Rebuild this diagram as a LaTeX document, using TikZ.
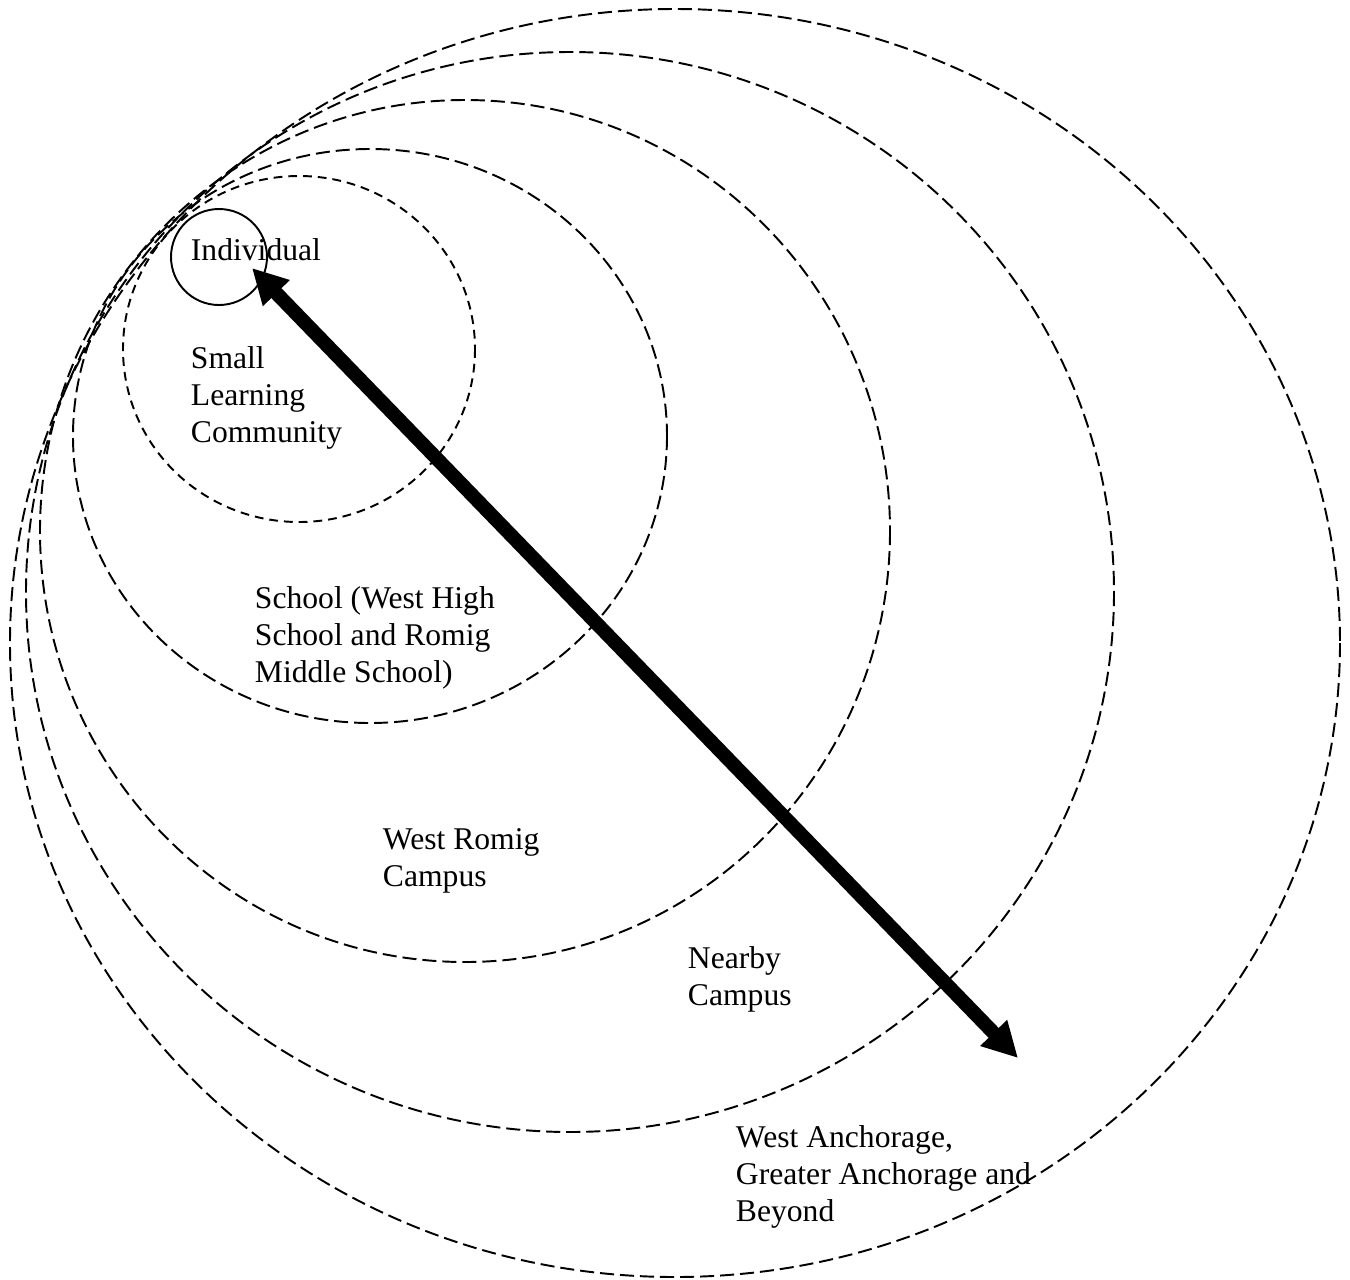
\documentclass[tikz,border=0pt]{standalone}
\usepackage{fontspec}
\setmainfont{Liberation Serif}
\usetikzlibrary{arrows.meta}

\begin{document}
\begin{tikzpicture}[x=0.02cm, y=-0.02cm, line width=1.1pt,
  ring/.style={dash pattern=on 8pt off 3.4pt},
  smallring/.style={dash pattern=on 5pt off 3.4pt},
  lvl/.style={anchor=base west, align=left, inner sep=0pt,
    font=\fontsize{18}{21}\selectfont}]

\useasboundingbox (0,0) rectangle (1350,1279);

% nested rings, inner to outer
\draw[smallring] (299,349) ellipse [x radius=176, y radius=173];
\foreach \cx/\cy/\rx/\ry in {370/436/297/287, 465/531/425/431,
                             570/592/544/540, 675/643/665/634}{
  \draw[ring] (\cx,\cy) ellipse [x radius=\rx, y radius=\ry];
}

% the individual
\draw (219,257) circle [radius=48];

% level names (placed at the baseline of the last line)
\node[lvl] (indiv)  at (190,260)  {Individual};
\node[lvl] (slc)    at (190,442)  {Small\\Learning\\Community};
\node[lvl] (school) at (254,682)  {School (West High\\School and Romig\\Middle School)};
\node[lvl] (campus) at (382,886)  {West Romig\\Campus};
\node[lvl] (nearby) at (687,1005) {Nearby\\Campus};
\node[lvl] (beyond) at (735,1221) {West Anchorage,\\Greater Anchorage and\\Beyond};

% two-way arrow
\coordinate (near) at (252,268);
\coordinate (far)  at (1018,1058);
\draw[line width=8pt, {Triangle[length=0.7cm,width=0.7cm]}-{Triangle[length=0.7cm,width=0.7cm]}]
  (near) -- (far);

\end{tikzpicture}
\end{document}
